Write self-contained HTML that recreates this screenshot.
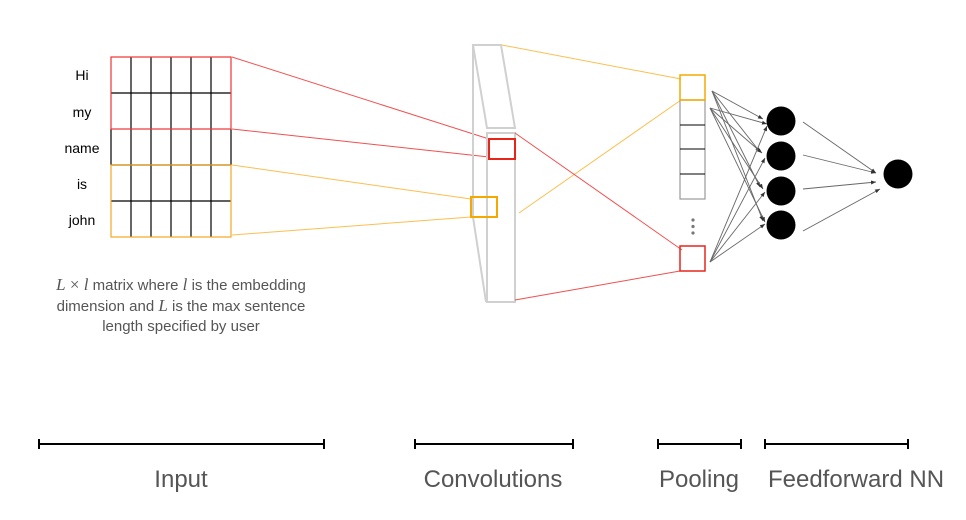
<!DOCTYPE html>
<html><head><meta charset="utf-8"><style>
html,body{margin:0;padding:0;background:#fff;}
svg{display:block;}
text{font-family:"Liberation Sans",sans-serif;}
</style></head><body>
<svg width="966" height="520" viewBox="0 0 966 520" xmlns="http://www.w3.org/2000/svg">
<defs>
<marker id="a" markerWidth="6" markerHeight="6" refX="5" refY="3" orient="auto" markerUnits="userSpaceOnUse"><path d="M0,1 L5,3 L0,5 z" fill="#333"/></marker>
</defs>
<g font-size="14" fill="#000" text-anchor="middle">
<text x="82" y="80">Hi</text>
<text x="82" y="117">my</text>
<text x="82" y="153">name</text>
<text x="82" y="189">is</text>
<text x="82" y="225">john</text>
</g>
<g stroke="#000" stroke-width="1.2" fill="none">
<line x1="131" y1="57" x2="131" y2="237"/><line x1="151" y1="57" x2="151" y2="237"/>
<line x1="171" y1="57" x2="171" y2="237"/><line x1="191" y1="57" x2="191" y2="237"/>
<line x1="211" y1="57" x2="211" y2="237"/>
<line x1="111" y1="93" x2="231" y2="93"/><line x1="111" y1="165" x2="231" y2="165"/><line x1="111" y1="201" x2="231" y2="201"/>
<line x1="111" y1="129" x2="111" y2="165"/><line x1="231" y1="129" x2="231" y2="165"/>
</g>
<rect x="111" y="57" width="120" height="72" fill="none" stroke="#e33" stroke-width="1.2"/>
<rect x="111" y="165" width="120" height="72" fill="none" stroke="#f5a623" stroke-width="1.2"/>
<line x1="232" y1="57" x2="489" y2="139" stroke="#f05050" stroke-width="1"/>
<line x1="232" y1="129" x2="489" y2="157" stroke="#f05050" stroke-width="1"/>
<line x1="232" y1="165" x2="471" y2="199" stroke="#fbbf50" stroke-width="1"/>
<line x1="232" y1="235" x2="471" y2="217" stroke="#fbbf50" stroke-width="1"/>
<!-- conv layer -->
<g stroke="#d0d0d0" stroke-width="2" fill="none">
<polygon points="473,45 501,45 515,128 487,128"/>
<polyline points="473,45 473,217 486,302"/>
<rect x="487" y="133" width="28" height="169"/>
</g>
<rect x="489" y="139" width="26" height="20" fill="none" stroke="#e8251b" stroke-width="2"/>
<rect x="471" y="197" width="26" height="20" fill="none" stroke="#f5a800" stroke-width="2"/>
<line x1="502" y1="45" x2="681" y2="79" stroke="#fbbf50" stroke-width="1"/>
<line x1="519" y1="213" x2="681" y2="100" stroke="#fbbf50" stroke-width="1"/>
<line x1="515" y1="133" x2="682" y2="250" stroke="#f05050" stroke-width="1"/>
<line x1="515" y1="300" x2="680" y2="271" stroke="#f05050" stroke-width="1"/>
<rect x="680" y="100" width="25" height="99" fill="none" stroke="#999" stroke-width="1.2"/>
<g stroke="#000" stroke-width="1"><line x1="680" y1="125" x2="705" y2="125"/><line x1="680" y1="149" x2="705" y2="149"/><line x1="680" y1="174" x2="705" y2="174"/></g>
<rect x="680" y="75" width="25" height="25" fill="none" stroke="#f5a800" stroke-width="1.5"/>
<rect x="680" y="246" width="25" height="25" fill="none" stroke="#e8251b" stroke-width="1.5"/>
<g fill="#777"><circle cx="693" cy="220" r="1.6"/><circle cx="693" cy="226.5" r="1.6"/><circle cx="693" cy="233" r="1.6"/></g>
<g stroke="#666" stroke-width="0.9" marker-end="url(#a)">
<line x1="712" y1="91" x2="763" y2="119"/><line x1="712" y1="91" x2="760" y2="152"/><line x1="712" y1="91" x2="760" y2="187"/><line x1="712" y1="91" x2="763" y2="221"/>
<line x1="710" y1="108" x2="767" y2="124"/><line x1="710" y1="108" x2="762" y2="153"/><line x1="710" y1="108" x2="763" y2="189"/><line x1="710" y1="108" x2="765" y2="222"/>
<line x1="710" y1="262" x2="767" y2="126"/><line x1="710" y1="262" x2="765" y2="158"/><line x1="710" y1="262" x2="765" y2="192"/><line x1="710" y1="262" x2="765" y2="224"/>
</g>
<g fill="#000"><circle cx="781" cy="121" r="14.5"/><circle cx="781" cy="156" r="14.5"/><circle cx="781" cy="191" r="14.5"/><circle cx="781" cy="225" r="14.5"/><circle cx="898" cy="174" r="14.5"/></g>
<g stroke="#666" stroke-width="0.9" marker-end="url(#a)">
<line x1="803" y1="122" x2="876" y2="173"/><line x1="803" y1="155" x2="876" y2="173"/><line x1="803" y1="189" x2="876" y2="182"/><line x1="803" y1="231" x2="880" y2="189"/>
</g>
<g font-size="15" fill="#555" text-anchor="middle">
<text x="181" y="290"><tspan font-family="Liberation Serif,serif" font-style="italic" font-size="17">L</tspan><tspan font-family="Liberation Serif,serif" font-size="17"> × </tspan><tspan font-family="Liberation Serif,serif" font-style="italic" font-size="17">l</tspan> matrix where <tspan font-family="Liberation Serif,serif" font-style="italic" font-size="17">l</tspan> is the embedding</text>
<text x="181" y="311">dimension and <tspan font-family="Liberation Serif,serif" font-style="italic" font-size="17">L</tspan> is the max sentence</text>
<text x="181" y="331">length specified by user</text>
</g>
<g stroke="#000" stroke-width="2">
<line x1="39" y1="444" x2="324" y2="444"/><line x1="39" y1="439" x2="39" y2="449"/><line x1="324" y1="439" x2="324" y2="449"/>
<line x1="415" y1="444" x2="573" y2="444"/><line x1="415" y1="439" x2="415" y2="449"/><line x1="573" y1="439" x2="573" y2="449"/>
<line x1="658" y1="444" x2="741" y2="444"/><line x1="658" y1="439" x2="658" y2="449"/><line x1="741" y1="439" x2="741" y2="449"/>
<line x1="765" y1="444" x2="908" y2="444"/><line x1="765" y1="439" x2="765" y2="449"/><line x1="908" y1="439" x2="908" y2="449"/>
</g>
<g font-size="24" fill="#555" text-anchor="middle">
<text x="181" y="487">Input</text>
<text x="493" y="487">Convolutions</text>
<text x="699" y="487">Pooling</text>
<text x="856" y="487">Feedforward NN</text>
</g>
</svg>
</body></html>
